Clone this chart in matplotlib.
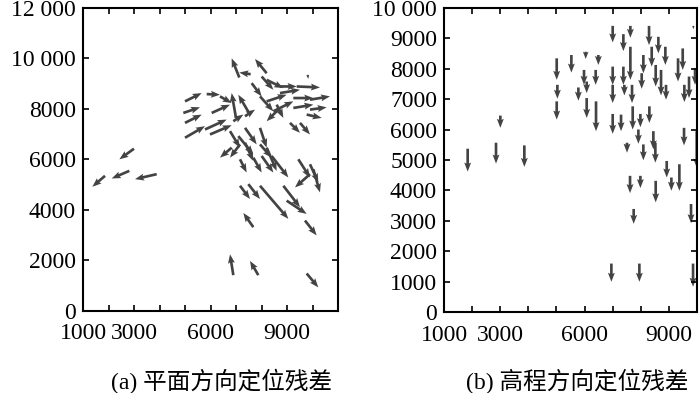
import matplotlib
matplotlib.use("Agg")
import matplotlib.pyplot as plt
from matplotlib.ticker import FixedLocator, FixedFormatter

plt.rcParams['font.family'] = ['Liberation Serif', 'Noto Sans CJK SC', 'DejaVu Sans']

# (a) planar residual vectors: tail position and (u, v) components
plane_x = [2999, 1862, 2816, 3888, 4999, 5849, 6371, 4934, 4999, 4999, 5783, 5979,
           6045, 6999, 7129, 8201, 7574, 7548, 6894, 7352, 7613, 8005, 8201, 8724,
           9378, 8724, 8201, 8463, 9247, 9900, 9247, 9900, 9770, 9116, 9508, 9809,
           7940, 8593, 8724, 6764, 7090, 7352, 7940, 6829, 7156, 7352, 7940, 8201,
           7156, 7678, 8005, 8397, 9443, 9900, 9900, 10031, 7156, 7482, 7940, 8855,
           8985, 7678, 9704, 6894, 7874, 9770]
plane_y = [6427, 5352, 5549, 5418, 8302, 8590, 8499, 7843, 7450, 6860, 7188, 6991,
           7843, 7646, 9246, 9416, 9377, 7778, 7515, 7712, 9023, 9285, 9154, 8892,
           8892, 8630, 8302, 7909, 8433, 8368, 8040, 7974, 7778, 7450, 7450, 9351,
           8499, 8171, 8040, 7122, 6925, 7253, 7253, 6467, 6598, 6663, 6598, 6467,
           6008, 6073, 6139, 6139, 6008, 5811, 5418, 5614, 4959, 5024, 4959, 4959,
           4369, 3320, 3582, 1419, 1419, 1485]
plane_u = [-575, -496, -692, -849, 654, 522, 458, 653, 654, 784, 850, 850,
           719, -170, -300, -457, -445, -458, 392, 392, 392, 458, 654, 654,
           914, 784, 784, 784, 784, 785, 784, 654, 588, 392, 392, 26,
           523, 262, -523, 392, 588, 457, 261, -458, -392, 326, 457, 392,
           261, 327, 458, 654, 457, 327, -588, 261, 392, 458, 1111, 653,
           785, -392, 458, -130, -326, 457]
plane_v = [-421, -432, -302, -197, 328, -26, -263, 223, 328, 459, 393, 367,
           328, 984, 760, 564, 66, 786, 263, 262, -524, -524, -328, 0,
           -39, 131, 262, 393, 0, 131, 131, 92, -132, -393, -459, -158,
           -590, -525, -525, -655, -721, -655, -786, -394, -525, -721, -525, -918,
           -525, -590, -656, -852, -721, -721, -525, -917, -524, -589, -1311, -852,
           -524, 564, -590, 826, 564, -551]

# (b) height residuals: all vertical, tail position and v component
height_x = [1842, 2850, 3004, 3858, 5009, 5033, 5009, 5531, 5780, 6041, 5981, 6076,
            6076, 6396, 6491, 6408, 7001, 7001, 7001, 7001, 7298, 7381, 7381, 7416,
            7630, 7630, 7689, 7713, 7986, 7511, 7915, 8092, 8033, 8092, 8294, 8306,
            8389, 8448, 8531, 8519, 8626, 8721, 8875, 8899, 8923, 9089, 9326, 9373,
            9492, 9539, 9551, 9717, 9871, 9931, 9990, 9788, 7618, 7986, 8531, 7748,
            6954, 7950, 9860]
height_y = [5372, 5568, 6461, 5481, 8345, 7473, 6929, 8454, 7386, 8562, 7964, 7582,
            7038, 7964, 8454, 6929, 9412, 8072, 7473, 6515, 6493, 9140, 8072, 7473,
            9412, 8726, 7473, 6766, 6515, 5568, 6003, 8454, 7855, 5513, 9412, 6766,
            8726, 5949, 8127, 5568, 9053, 7964, 8726, 7473, 4969, 4424, 8345, 4860,
            8671, 6058, 7473, 7746, 9412, 8018, 5949, 3553, 4479, 4479, 4315, 3390,
            1593, 1593, 1593]
height_v = [-752, -686, -403, -708, -708, -457, -599, -578, -435, -239, -491, -381,
            -654, -491, -327, -980, -545, -599, -598, -653, -544, -556, -599, -348,
            -392, -1089, -598, -763, -435, -327, -468, -599, -512, -522, -632, -545,
            -654, -599, -708, -654, -545, -839, -599, -490, -545, -435, -763, -871,
            -707, -577, -566, -708, -109, -545, -1198, -632, -567, -403, -707, -490,
            -599, -599, -762]

x_ticks = list(range(1000, 11001, 1000))
x_labels = ['1000', '', '3000', '', '', '6000', '', '', '9000', '', '']
plane_yticks = [0, 2000, 4000, 6000, 8000, 10000, 12000]
plane_ylabels = ['0', '2000', '4000', '6000', '8000', '10 000', '12 000']
height_yticks = list(range(0, 10001, 1000))
height_ylabels = ['0', '1000', '2000', '3000', '4000', '5000', '6000', '7000',
                  '8000', '9000', '10 000']
captions = ['(a) 平面方向定位残差', '(b) 高程方向定位残差']

arrow_color = '#434343'
fs = 17

fig = plt.figure(figsize=(7, 3.93), dpi=100)
ax1 = fig.add_axes([0.1186, 0.2087, 0.3643, 0.771])
ax2 = fig.add_axes([0.6343, 0.2061, 0.3614, 0.7735])

ax1.quiver(plane_x, plane_y, plane_u, plane_v, angles='xy', scale_units='xy', scale=1,
           color=arrow_color, width=0.0105, headwidth=2.6, headlength=3.4,
           headaxislength=3.0)
ax2.quiver(height_x, height_y, [0] * len(height_x), height_v, angles='xy', scale_units='xy',
           scale=1, color=arrow_color, width=0.0105, headwidth=2.6, headlength=3.4,
           headaxislength=3.0)

ax1.set_xlim(1000, 11000)
ax1.set_ylim(0, 12000)
ax2.set_xlim(1000, 10000)
ax2.set_ylim(0, 10000)

ax1.xaxis.set_major_locator(FixedLocator(x_ticks))
ax1.xaxis.set_major_formatter(FixedFormatter(x_labels))
ax2.xaxis.set_major_locator(FixedLocator(x_ticks[:10]))
ax2.xaxis.set_major_formatter(FixedFormatter(x_labels[:10]))
ax1.yaxis.set_major_locator(FixedLocator(plane_yticks))
ax1.yaxis.set_major_formatter(FixedFormatter(plane_ylabels))
ax2.yaxis.set_major_locator(FixedLocator(height_yticks))
ax2.yaxis.set_major_formatter(FixedFormatter(height_ylabels))

for ax in (ax1, ax2):
    ax.tick_params(direction='in', length=4.5, width=1.2, top=True, right=True,
                   labelsize=fs, pad=5)
    ax.tick_params(axis='x', pad=9)
    for sp in ax.spines.values():
        sp.set_linewidth(1.5)
        sp.set_color('black')

fig.text(0.317, 0.03, captions[0], fontsize=fs, ha='center', va='center')
fig.text(0.825, 0.03, captions[1], fontsize=fs, ha='center', va='center')

fig.savefig('out.png', dpi=100)
